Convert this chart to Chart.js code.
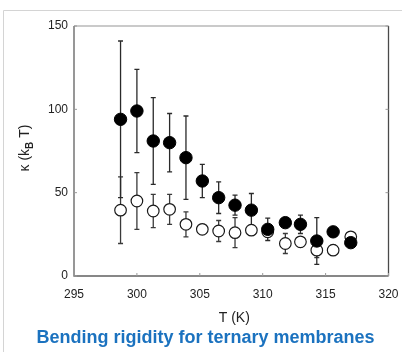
<!DOCTYPE html>
<html>
<head>
<meta charset="utf-8">
<script src="https://cdn.jsdelivr.net/npm/chart.js@4.4.1/dist/chart.umd.min.js"></script>
<style>
  html, body { margin: 0; padding: 0; background: #ffffff; }
  #wrap { position: relative; width: 402px; height: 352px; }
  canvas { display: block; }
</style>
</head>
<body>
<div id="wrap"><canvas id="c" width="402" height="352"></canvas></div>
<script>
// ---- data ----
const temperatures = [298.7, 300.0, 301.3, 302.6, 303.9, 305.2, 306.5, 307.8, 309.1, 310.4, 311.8, 313.0, 314.3, 315.6, 317.0];
const kappaFilled      = [94, 99, 81, 80, 71, 57, 47, 42.5, 39.5, 28, 32, 31, 21, 26.5, 20];
const kappaFilledError = [47, 25, 26, 17.5, 25, 10, 9.5, 6, 10, 6.7, 3, 5.5, 14, 3, 3];
const kappaOpen        = [39.5, 45, 39, 40, 31, 28, 27, 26, 27.5, 26.5, 19.5, 20.5, 15.5, 15.5, 23.5];
const kappaOpenError   = [20, 17, 10, 9, 7.5, 3, 6.3, 9, 3, 3, 6, 3, 4.5, 3, 2.5];
const xTicks = [295, 300, 305, 310, 315, 320];
const yTicks = [0, 50, 100, 150];
const xAxisLabel = 'T (K)';
const yAxisLabelMain = 'κ (k';
const yAxisLabelSub = 'B';
const yAxisLabelEnd = ' T)';
const chartTitle = 'Bending rigidity for ternary membranes';

const FONT = '"Liberation Sans", Arial, Helvetica, sans-serif';

const filledPoints = temperatures.map((t, i) => ({ x: t, y: kappaFilled[i] }));
const openPoints = temperatures.map((t, i) => ({ x: t, y: kappaOpen[i] }));

const errorBarPlugin = {
  id: 'errorBars',
  beforeDatasetsDraw(chart) {
    const ctx = chart.ctx;
    const xs = chart.scales.x, ys = chart.scales.y;
    const sets = [
      { vals: kappaOpen, errs: kappaOpenError, color: '#3a3a3a' },
      { vals: kappaFilled, errs: kappaFilledError, color: '#2a2a2a' }
    ];
    ctx.save();
    sets.forEach(s => {
      ctx.strokeStyle = s.color;
      ctx.lineWidth = 1.3;
      temperatures.forEach((t, i) => {
        const px = xs.getPixelForValue(t);
        const top = ys.getPixelForValue(s.vals[i] + s.errs[i]);
        const bot = ys.getPixelForValue(s.vals[i] - s.errs[i]);
        ctx.beginPath();
        ctx.moveTo(px, top); ctx.lineTo(px, bot);
        ctx.moveTo(px - 2.5, top); ctx.lineTo(px + 2.5, top);
        ctx.moveTo(px - 2.5, bot); ctx.lineTo(px + 2.5, bot);
        ctx.stroke();
      });
    });
    ctx.restore();
  }
};

const framePlugin = {
  id: 'frame',
  beforeDraw(chart) {
    const ctx = chart.ctx;
    ctx.save();
    ctx.fillStyle = '#ffffff';
    ctx.fillRect(0, 0, chart.width, chart.height);
    // card border
    ctx.strokeStyle = '#d4d4d4';
    ctx.lineWidth = 1;
    ctx.beginPath();
    ctx.moveTo(3.5, 352); ctx.lineTo(3.5, 10.5); ctx.lineTo(402, 10.5);
    ctx.stroke();
    ctx.restore();
  },
  afterDraw(chart) {
    const ctx = chart.ctx;
    const a = chart.chartArea;
    const xs = chart.scales.x, ys = chart.scales.y;
    ctx.save();
    // axes box
    ctx.lineWidth = 1.3;
    ctx.strokeStyle = '#b8b8b8';
    ctx.beginPath(); ctx.moveTo(a.left, a.top); ctx.lineTo(a.right, a.top); ctx.stroke();
    ctx.strokeStyle = '#4a4a4a';
    ctx.beginPath(); ctx.moveTo(a.right, a.top); ctx.lineTo(a.right, a.bottom); ctx.stroke();
    ctx.strokeStyle = '#606060';
    ctx.beginPath(); ctx.moveTo(a.left, a.top); ctx.lineTo(a.left, a.bottom); ctx.lineTo(a.right, a.bottom); ctx.stroke();
    // inward ticks
    ctx.strokeStyle = '#999999';
    ctx.lineWidth = 1;
    ctx.beginPath();
    xTicks.forEach(v => {
      const px = xs.getPixelForValue(v);
      ctx.moveTo(px, a.bottom); ctx.lineTo(px, a.bottom - 3);
    });
    yTicks.forEach(v => {
      const py = ys.getPixelForValue(v);
      ctx.moveTo(a.left, py); ctx.lineTo(a.left + 3, py);
      ctx.moveTo(a.right, py); ctx.lineTo(a.right - 3, py);
    });
    ctx.stroke();
    // x axis title
    ctx.fillStyle = '#222222';
    ctx.font = '14px ' + FONT;
    ctx.textAlign = 'center';
    ctx.textBaseline = 'middle';
    ctx.fillText(xAxisLabel, (a.left + a.right) / 2 + 3, 318);
    // y axis title with subscript
    ctx.save();
    ctx.translate(24, (a.top + a.bottom) / 2 - 3);
    ctx.rotate(-Math.PI / 2);
    ctx.textBaseline = 'alphabetic';
    ctx.textAlign = 'left';
    ctx.font = '14px ' + FONT;
    const w1 = ctx.measureText(yAxisLabelMain).width;
    ctx.font = 'bold 10px ' + FONT;
    const w2 = ctx.measureText(yAxisLabelSub).width;
    ctx.font = '14px ' + FONT;
    const w3 = ctx.measureText(yAxisLabelEnd).width;
    let sx = -(w1 + w2 + w3) / 2;
    ctx.fillText(yAxisLabelMain, sx, 5);
    ctx.font = 'bold 10px ' + FONT;
    ctx.fillText(yAxisLabelSub, sx + w1, 9);
    ctx.font = '14px ' + FONT;
    ctx.fillText(yAxisLabelEnd, sx + w1 + w2, 5);
    ctx.restore();
    // main title
    ctx.fillStyle = '#1b72bf';
    ctx.font = 'bold 18px ' + FONT;
    ctx.textAlign = 'center';
    ctx.textBaseline = 'middle';
    ctx.fillText(chartTitle, 205.5, 338);
    ctx.restore();
  }
};

new Chart(document.getElementById('c'), {
  type: 'scatter',
  data: {
    datasets: [
      {
        label: 'filled',
        data: filledPoints,
        pointRadius: 6.2,
        pointHoverRadius: 6.2,
        pointBackgroundColor: '#000000',
        pointBorderColor: '#000000',
        pointBorderWidth: 1
      },
      {
        label: 'open',
        data: openPoints,
        pointRadius: 5.8,
        pointHoverRadius: 5.8,
        pointBackgroundColor: '#ffffff',
        pointBorderColor: '#1a1a1a',
        pointBorderWidth: 1.2
      }
    ]
  },
  options: {
    responsive: false,
    animation: false,
    devicePixelRatio: 1,
    layout: { padding: { left: 0, right: 13.5, top: 26, bottom: 0 } },
    plugins: { legend: { display: false }, tooltip: { enabled: false }, title: { display: false } },
    scales: {
      x: {
        type: 'linear',
        min: 295, max: 320,
        afterFit(scale) { scale.height = 76; scale.paddingRight = 0; scale.paddingLeft = 0; },
        afterBuildTicks(scale) { scale.ticks = xTicks.map(v => ({ value: v })); },
        grid: { display: false, drawTicks: false },
        border: { display: false },
        ticks: { padding: 11, color: '#222222', font: { family: FONT, size: 12 }, maxRotation: 0 }
      },
      y: {
        type: 'linear',
        min: 0, max: 150,
        afterFit(scale) { scale.width = 74; scale.paddingTop = 0; scale.paddingBottom = 0; },
        afterBuildTicks(scale) { scale.ticks = yTicks.map(v => ({ value: v })); },
        grid: { display: false, drawTicks: false },
        border: { display: false },
        ticks: { padding: 6, color: '#222222', font: { family: FONT, size: 12 } }
      }
    }
  },
  plugins: [framePlugin, errorBarPlugin]
});
</script>
</body>
</html>
